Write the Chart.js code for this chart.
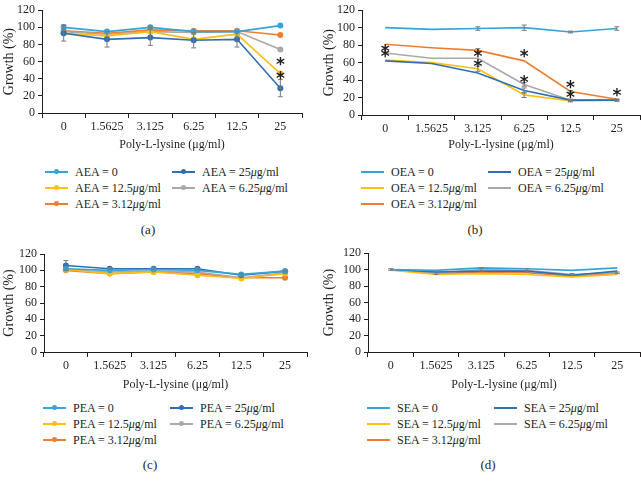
<!DOCTYPE html>
<html>
<head>
<meta charset="utf-8">
<script src="https://cdn.jsdelivr.net/npm/chart.js@4.4.0/dist/chart.umd.min.js"></script>
<style>
  body { margin: 0; background: #fff; width: 641px; height: 484px; position: relative; overflow: hidden;
         font-family: "Liberation Serif", serif; color: #231f20; }
  canvas { position: absolute; }
  .legend { position: absolute; display: grid; grid-template-columns: 127px 127px; grid-auto-rows: 16px; font-size: 12px; }
  .item { display: flex; align-items: center; white-space: nowrap; }
  .swatch { position: relative; width: 23px; height: 2px; margin-right: 7px; }
  .swatch b { position: absolute; left: 9px; top: -2px; width: 5px; height: 5px; border-radius: 50%; }
  .letter { position: absolute; font-size: 13px; transform: translate(-50%, -50%); }
</style>
</head>
<body>
<canvas id="chartA" width="320" height="158" style="left:0;top:0"></canvas>
<canvas id="chartB" width="321" height="158" style="left:320px;top:0"></canvas>
<canvas id="chartC" width="320" height="158" style="left:0;top:240px"></canvas>
<canvas id="chartD" width="321" height="158" style="left:320px;top:240px"></canvas>
<div class="legend" id="legendA" style="left:45px;top:164px"></div>
<div class="legend" id="legendB" style="left:361px;top:164px"></div>
<div class="legend" id="legendC" style="left:43px;top:400px"></div>
<div class="legend" id="legendD" style="left:367px;top:400px"></div>
<div class="letter" style="left:148px;top:230px">(a)</div>
<div class="letter" style="left:475px;top:230px">(b)</div>
<div class="letter" style="left:150px;top:465px">(c)</div>
<div class="letter" style="left:488px;top:465px">(d)</div>
<script>
// categories and series (order: 0, 25, 12.5, 6.25, 3.12 -> legend row order)
const doses = ['0', '1.5625', '3.125', '6.25', '12.5', '25'];
const concLabels = ['0', '25', '12.5', '6.25', '3.12'];
const seriesColors = ['#35a4da', '#2f6fb4', '#fdbf12', '#a9a9a9', '#ee7d31'];

// (a) AEA
const aea0  = [100, 95, 100, 95, 95, 102];
const aea25 = [93, 86, 88, 85, 86, 29];
const aea12 = [93, 90, 95, 86, 92, 46];
const aea6  = [95, 92, 95, 94, 95, 74];
const aea3  = [96, 93, 97, 96, 96, 91];
const aeaErr0  = [3, 0, 1, 0, 0, 0];
const aeaErr25 = [9, 9, 9, 9, 9, 10];
const aeaStars = [[5, 60], [5, 44]];

// (b) OEA
const oea0  = [100, 98, 99, 100, 95, 99];
const oea25 = [62, 59, 48, 28, 17, 17];
const oea12 = [63, 60, 53, 23, 16, 17];
const oea6  = [71, 65, 65, 35, 17, 17];
const oea3  = [81, 77, 74, 62, 27, 18];
const oeaErr0  = [0, 0, 2, 3, 1, 2];
const oeaErr25 = [0, 0, 0, 3, 1, 1];
const oeaErr12 = [0, 0, 3, 3, 1, 1];
const oeaErr6  = [0, 0, 0, 2, 1, 1];
const oeaErr3  = [0, 0, 2, 0, 1, 0];
const oeaStars = [[0, 76], [0, 70], [2, 70], [2, 59], [3, 70], [3, 41], [4, 35], [4, 23], [5, 26]];

// (c) PEA
const pea0  = [102, 100, 101, 100, 95, 99];
const pea25 = [106, 102, 102, 102, 94, 99];
const pea12 = [101, 96, 98, 94, 90, 96];
const pea6  = [101, 98, 99, 98, 91, 97];
const pea3  = [100, 96, 98, 96, 91, 91];
const peaErr25 = [6, 1, 1, 1, 2, 1];

// (d) SEA
const sea0  = [100, 99, 102, 101, 99, 102];
const sea25 = [100, 97, 98, 98, 93, 98];
const sea12 = [99, 94, 95, 94, 91, 94];
const sea6  = [100, 96, 100, 99, 94, 96];
const sea3  = [100, 95, 97, 96, 92, 95];
const seaErr6 = [1, 2, 2, 2, 1, 1];

const ink = '#231f20';
Chart.defaults.font.family = '"Liberation Serif", serif';
Chart.defaults.color = ink;

// error bars + significance asterisks, positioned through the chart scales
const extrasPlugin = {
  id: 'extras',
  afterDatasetsDraw(chart, args, opts) {
    const { ctx, scales: { x, y } } = chart;
    ctx.save();
    ctx.strokeStyle = '#7a7a7a';
    ctx.lineWidth = 1;
    chart.data.datasets.forEach(ds => {
      (ds.errors || []).forEach((e, i) => {
        if (!e) return;
        const px = x.getPixelForValue(i);
        const top = y.getPixelForValue(ds.data[i] + e);
        const bot = y.getPixelForValue(ds.data[i] - e);
        ctx.beginPath();
        ctx.moveTo(px, top); ctx.lineTo(px, bot);
        ctx.moveTo(px - 2.5, top); ctx.lineTo(px + 2.5, top);
        ctx.moveTo(px - 2.5, bot); ctx.lineTo(px + 2.5, bot);
        ctx.stroke();
      });
    });
    ctx.fillStyle = ink;
    ctx.font = 'bold 17px "DejaVu Sans"';
    ctx.textAlign = 'center';
    ctx.textBaseline = 'middle';
    (opts.stars || []).forEach(([i, v]) => {
      ctx.fillText('*', x.getPixelForValue(i), y.getPixelForValue(v) + 4);
    });
    ctx.restore();
  }
};

function makePanel(id, prefix, series, errors, stars, markers, layout) {
  const datasets = series.map((data, k) => ({
    label: prefix + ' = ' + concLabels[k],
    data: data,
    errors: errors[k],
    borderColor: seriesColors[k],
    backgroundColor: seriesColors[k],
    borderWidth: 1.6,
    pointRadius: markers ? 3 : 0,
    pointBorderWidth: 0,
    tension: 0
  }));
  new Chart(document.getElementById(id), {
    type: 'line',
    data: { labels: doses, datasets: datasets },
    options: {
      responsive: false,
      animation: false,
      layout: { padding: { top: layout.top, right: layout.right, left: 0, bottom: 0 } },
      plugins: { legend: { display: false }, tooltip: { enabled: false }, extras: { stars: stars } },
      scales: {
        x: {
          offset: true,
          ticks: { font: { size: 12 }, padding: 2, maxRotation: 0, autoSkip: false },
          grid: { offset: true, drawOnChartArea: false, tickLength: 5, color: ink },
          border: { color: ink, width: 1 },
          title: { display: true, text: 'Poly-L-lysine (μg/ml)', font: { size: 12 }, padding: { top: 0, bottom: 6 } },
          afterFit(s) { s.height = layout.xH; }
        },
        y: {
          min: 0, max: 120,
          ticks: { stepSize: 20, font: { size: 12 }, padding: 3, autoSkip: false },
          grid: { drawOnChartArea: false, tickLength: 4, color: ink },
          border: { color: ink, width: 1 },
          title: { display: true, text: 'Growth (%)', font: { size: 14 }, padding: { top: 1, bottom: 0 } },
          afterFit(s) { s.width = layout.yW; }
        }
      }
    },
    plugins: [extrasPlugin]
  });
  // html legend built from the same datasets
  const legend = document.getElementById(id.replace('chart', 'legend'));
  datasets.forEach(ds => {
    const conc = ds.label.split(' = ')[1];
    const unit = conc === '0' ? '' : '<i>μ</i>g/ml';
    legend.insertAdjacentHTML('beforeend',
      `<div class="item"><span class="swatch" style="background:${ds.borderColor}">` +
      (markers ? `<b style="background:${ds.borderColor}"></b>` : '') +
      `</span>${prefix} = ${conc}${unit}</div>`);
  });
}

makePanel('chartA', 'AEA', [aea0, aea25, aea12, aea6, aea3], [aeaErr0, aeaErr25], aeaStars, true,
  { top: 8, right: 18, xH: 45, yW: 42 });
makePanel('chartB', 'OEA', [oea0, oea25, oea12, oea6, oea3], [oeaErr0, oeaErr25, oeaErr12, oeaErr6, oeaErr3], oeaStars, false,
  { top: 5, right: 1, xH: 43, yW: 42 });
makePanel('chartC', 'PEA', [pea0, pea25, pea12, pea6, pea3], [null, peaErr25], [], true,
  { top: 14, right: 13, xH: 46, yW: 44 });
makePanel('chartD', 'SEA', [sea0, sea25, sea12, sea6, sea3], [null, null, null, seaErr6], [], false,
  { top: 13, right: 1, xH: 46, yW: 48 });
</script>
</body>
</html>
